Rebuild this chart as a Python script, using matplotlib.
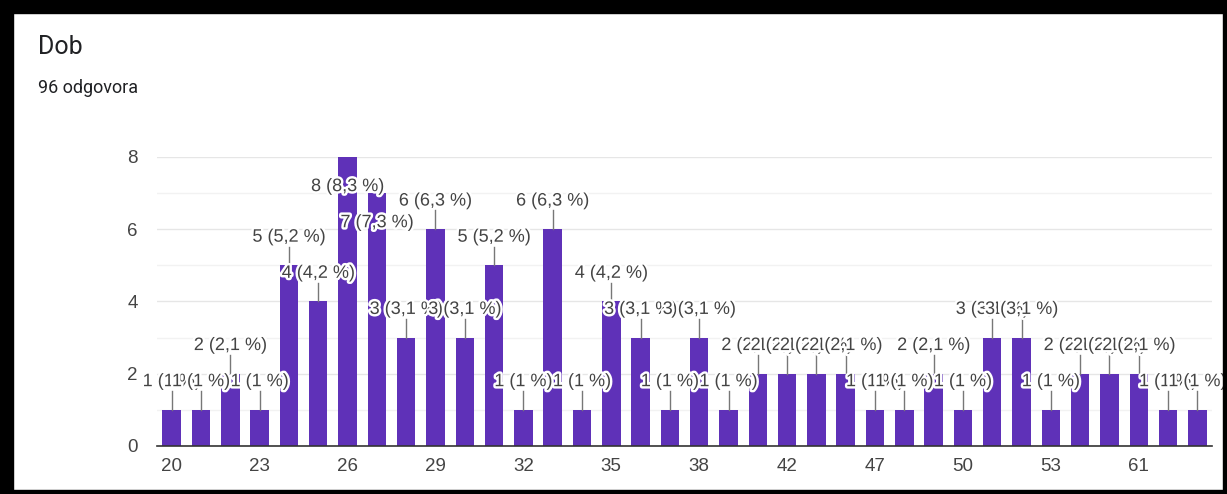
import matplotlib.pyplot as plt
import matplotlib.patheffects as pe
from matplotlib.patches import Rectangle

plt.rcParams['font.family'] = ['Liberation Sans', 'DejaVu Sans']

title = 'Dob'
subtitle = '96 odgovora'
total = 96

ages = ['20', '21', '22', '23', '24', '25', '26', '27', '28', '29', '30', '31',
        '32', '33', '34', '35', '36', '37', '38', '39', '40', '42', '43', '45',
        '47', '48', '49', '50', '51', '52', '53', '54', '56', '61', '62', '63']
counts = [1, 1, 2, 1, 5, 4, 8, 7, 3, 6, 3, 5,
          1, 6, 1, 4, 3, 1, 3, 1, 2, 2, 2, 2,
          1, 1, 2, 1, 3, 3, 1, 2, 2, 2, 1, 1]


def fmt(n):
    # round half up, one decimal, comma as decimal sign
    p = int(n * 1000 / total + 0.5) / 10
    s = ('%.1f' % p).replace('.', ',')
    if s.endswith(',0'):
        s = s[:-2]
    return '%d (%s %%)' % (n, s)


fig = plt.figure(figsize=(12.27, 4.94), dpi=100)
ax = fig.add_axes([0.128, 0.0972, 0.8598, 0.5850])

x = list(range(len(counts)))
ax.bar(x, counts, width=0.63, color='#5f31b8', zorder=2)

ax.set_xlim(-0.5, len(counts) - 0.5)
ax.set_ylim(0, 8)
ax.set_yticks([0, 2, 4, 6, 8])
ax.set_yticks([1, 3, 5, 7], minor=True)
ax.grid(axis='y', which='major', color='#e6e6e6', lw=1, zorder=0)
ax.grid(axis='y', which='minor', color='#f2f2f2', lw=1, zorder=0)
ax.set_xticks(x[::3])
ax.set_xticklabels(ages[::3])
ax.tick_params(axis='both', which='both', length=0, labelsize=13.5, colors='#444444')
ax.tick_params(axis='y', pad=14)
ax.tick_params(axis='x', pad=9)
for s in ['top', 'right', 'left']:
    ax.spines[s].set_visible(False)
ax.spines['bottom'].set_color('#333333')
ax.spines['bottom'].set_linewidth(1.2)
ax.spines['bottom'].set_zorder(3)

halo = [pe.withStroke(linewidth=3.5, foreground='white')]
for i, v in enumerate(counts):
    if v >= 7:
        ty = v - 0.82
    else:
        ty = v + 0.78
        ax.plot([i, i], [v, v + 0.52], color='#777777', lw=1, zorder=3)
    ax.text(i, ty, fmt(v), ha='center', va='center', fontsize=13,
            color='#444444', path_effects=halo, zorder=4, clip_on=False)

fig.text(38 / 1227, 1 - 47 / 494, title, fontsize=18, color='#202124',
         va='center', ha='left', family=['Roboto', 'DejaVu Sans'])
fig.text(38 / 1227, 1 - 88 / 494, subtitle, fontsize=13, color='#202124',
         va='center', ha='left', family=['Roboto', 'DejaVu Sans'])

# screenshot frame
W, H = 1227, 494
for (x0, y0, w, h) in [(0, 0, 13, H), (0, H - 13, W, 13), (W - 4, 0, 4, H), (0, 0, W, 4)]:
    fig.patches.append(Rectangle((x0 / W, y0 / H), w / W, h / H, transform=fig.transFigure,
                                 color='black', zorder=10))

fig.savefig('out.png', dpi=100)
